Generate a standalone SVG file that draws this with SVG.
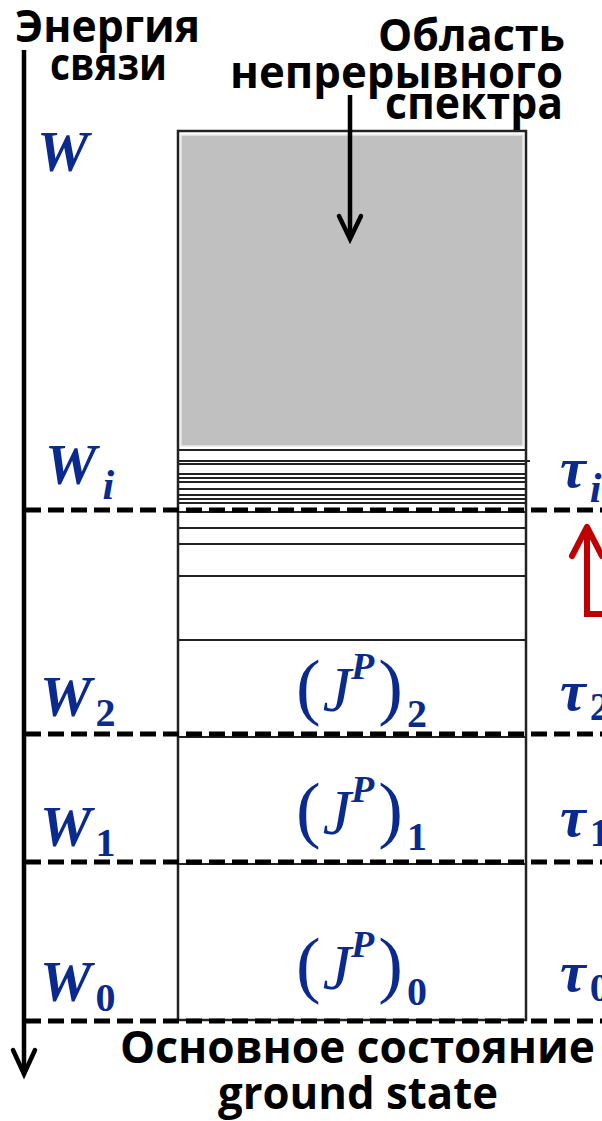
<svg xmlns="http://www.w3.org/2000/svg" width="602" height="1121" viewBox="0 0 602 1121">
<style>
.lbl{font-family:"Open Sans","DejaVu Sans",sans-serif;font-weight:bold;fill:#000}
.m{font-family:"Liberation Serif","DejaVu Serif",serif;fill:#0a2a8e}
.W{font-style:italic;font-weight:bold;font-size:58px}
.sub{font-style:normal;font-weight:bold;font-size:40px}
.subi{font-style:italic;font-weight:bold;font-size:42px}
.lev{stroke:#222;stroke-width:2;fill:none}
.dash{stroke:#000;stroke-width:5;stroke-dasharray:16 7;fill:none}
</style>
<g id="box">
<rect x="178" y="131" width="348" height="889" fill="#fff" stroke="#222" stroke-width="2.5"/>
<rect x="181" y="135" width="342" height="311" fill="#c0c0c0" stroke="#e8e8e8" stroke-width="1.5"/>
<g class="lev">
<line x1="178" y1="450" x2="526" y2="450"/>
<line x1="178" y1="461" x2="530" y2="461"/>
<line x1="178" y1="464" x2="526" y2="464"/>
<line x1="178" y1="474" x2="526" y2="474"/>
<line x1="178" y1="478" x2="526" y2="478"/>
<line x1="178" y1="482" x2="526" y2="482"/>
<line x1="178" y1="489" x2="526" y2="489"/>
<line x1="178" y1="495" x2="526" y2="495"/>
<line x1="178" y1="499" x2="526" y2="499"/>
<line x1="178" y1="503" x2="526" y2="503"/>
<line x1="178" y1="512" x2="526" y2="512"/>
<line x1="178" y1="528" x2="526" y2="528"/>
<line x1="178" y1="544" x2="526" y2="544"/>
<line x1="178" y1="576" x2="526" y2="576"/>
<line x1="178" y1="640" x2="526" y2="640"/>
<line x1="178" y1="737" x2="526" y2="737"/>
<line x1="178" y1="864" x2="526" y2="864"/>
</g>
</g>
<g id="connectors">
<line class="dash" x1="25" y1="510" x2="602" y2="510"/>
<line class="dash" x1="25" y1="734" x2="602" y2="734"/>
<line class="dash" x1="25" y1="862" x2="602" y2="862"/>
<line class="dash" x1="25" y1="1021" x2="602" y2="1021"/>
<line x1="24" y1="50" x2="24" y2="1073" stroke="#000" stroke-width="4.5"/>
<polyline points="13,1050 24,1074 35,1050" fill="none" stroke="#000" stroke-width="4.5" stroke-linecap="round"/>
<line x1="350" y1="95" x2="350" y2="238" stroke="#000" stroke-width="4.5"/>
<polyline points="339,216 350,239 361,216" fill="none" stroke="#000" stroke-width="4.5" stroke-linecap="round"/>
<polyline points="602,614 587,614 587,530" fill="none" stroke="#c00000" stroke-width="6"/>
<polyline points="572,556 587,527 602,556" fill="none" stroke="#c00000" stroke-width="6" stroke-linecap="round" stroke-linejoin="round"/>
</g>
<g id="axis-label">
<text class="lbl" x="15" y="42" font-size="44" textLength="185" lengthAdjust="spacingAndGlyphs">Энергия</text>
<text class="lbl" x="50" y="80" font-size="44" textLength="117" lengthAdjust="spacingAndGlyphs">связи</text>
</g>
<g id="spectrum-label">
<text class="lbl" x="378" y="51" font-size="44" textLength="187" lengthAdjust="spacingAndGlyphs">Область</text>
<text class="lbl" x="230" y="88" font-size="44" textLength="333" lengthAdjust="spacingAndGlyphs">непрерывного</text>
<text class="lbl" x="385" y="119" font-size="44" textLength="178" lengthAdjust="spacingAndGlyphs">спектра</text>
</g>
<g id="ground-label">
<text class="lbl" x="120" y="1063" font-size="44" textLength="475" lengthAdjust="spacingAndGlyphs">Основное состояние</text>
<text class="lbl" x="218" y="1109" font-size="44" textLength="280" lengthAdjust="spacingAndGlyphs">ground state</text>
</g>
<g id="W">
<text class="m W" x="37" y="171">W</text>
</g>
<g id="Wi">
<text class="m W" x="45" y="484">W<tspan class="subi" dx="6" dy="15">i</tspan></text>
<text class="m W" x="560" y="487">τ<tspan class="subi" dx="4" dy="15">i</tspan></text>
</g>
<g id="level2">
<text class="m W" x="40" y="716">W<tspan class="sub" dx="4" dy="10">2</tspan></text>
<text class="m" x="296" y="711" font-size="74">(<tspan font-style="italic" font-size="64" dx="2">J</tspan><tspan font-style="italic" font-weight="bold" font-size="38" dy="-32">P</tspan><tspan dy="32" dx="4">)</tspan><tspan class="sub" dx="4" dy="16">2</tspan></text>
<text class="m W" x="560" y="710">τ<tspan class="sub" dx="4" dy="10">2</tspan></text>
</g>
<g id="level1">
<text class="m W" x="40" y="846">W<tspan class="sub" dx="4" dy="10">1</tspan></text>
<text class="m" x="296" y="834" font-size="74">(<tspan font-style="italic" font-size="64" dx="2">J</tspan><tspan font-style="italic" font-weight="bold" font-size="38" dy="-32">P</tspan><tspan dy="32" dx="4">)</tspan><tspan class="sub" dx="4" dy="16">1</tspan></text>
<text class="m W" x="560" y="836">τ<tspan class="sub" dx="4" dy="10">1</tspan></text>
</g>
<g id="level0">
<text class="m W" x="40" y="1001">W<tspan class="sub" dx="4" dy="10">0</tspan></text>
<text class="m" x="296" y="989" font-size="74">(<tspan font-style="italic" font-size="64" dx="2">J</tspan><tspan font-style="italic" font-weight="bold" font-size="38" dy="-32">P</tspan><tspan dy="32" dx="4">)</tspan><tspan class="sub" dx="4" dy="16">0</tspan></text>
<text class="m W" x="560" y="991">τ<tspan class="sub" dx="4" dy="10">0</tspan></text>
</g>
</svg>
